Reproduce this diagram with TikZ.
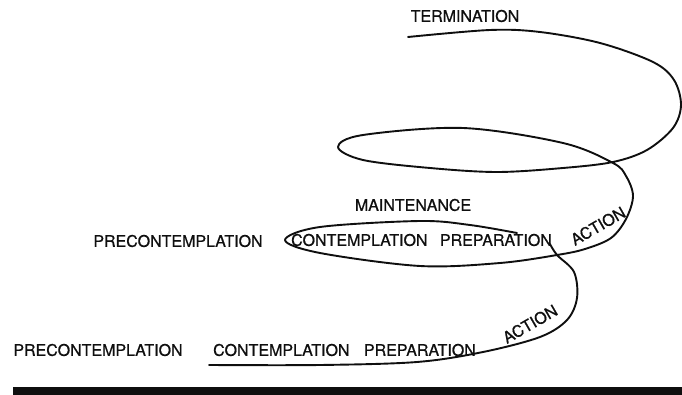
\documentclass[tikz,border=0pt]{standalone}
\usepackage{fontspec}
\setmainfont{TeX Gyre Heros}
\newfontfamily\stagefont[FakeBold=0.8]{TeX Gyre Heros}
\usetikzlibrary{positioning}
\definecolor{myink}{RGB}{15,15,15}
\tikzset{
  stage/.style={font=\stagefont\fontsize{16}{19}\selectfont, text=myink, inner sep=0pt},
  spiral/.style={line width=1.9pt, color=myink, line cap=round, line join=round},
  ground/.style={fill=myink, draw=none}
}

\begin{document}
\begin{tikzpicture}[x=1pt, y=-1pt]
  \useasboundingbox (0,0) rectangle (682,395);

  % --- lower turn ---
  \node[stage] (prelo) at (98,350) {PRECONTEMPLATION};
  \node[stage, anchor=west] (conlo) at (213,350) {CONTEMPLATION};
  \node[stage, right=14pt of conlo] (preplo) {PREPARATION};
  \node[stage, rotate=30] (actlo) at (530,324) {ACTION};

  % --- upper turn ---
  \node[stage] (preup) at (178,241) {PRECONTEMPLATION};
  \node[stage, anchor=west] (conup) at (291,240) {CONTEMPLATION};
  \node[stage, right=12pt of conup] (prepup) {PREPARATION};
  \node[stage, rotate=30] (actup) at (598,226) {ACTION};
  \node[stage] (maint) at (413,205) {MAINTENANCE};
  \node[stage] (term) at (465,16) {TERMINATION};

  % spiral, lower stroke
  \draw[spiral] plot[smooth, tension=0.55] coordinates {
    (209,365) (320,365) (417,362) (483,352) (540,337) (567,320)
    (577,298) (574,272) (557,255) (550,244)};

  % spiral, middle and upper strokes
  \draw[spiral] plot[smooth, tension=0.55] coordinates {
    (517,233) (470,225) (420,221) (320,227) (285,240) (320,253)
    (420,266) (500,263) (557,255) (585,249) (611,238) (626,219)
    (633,196) (626,176) (613,163) (563,143) (463,128) (363,135)
    (338,147) (363,160) (430,168) (497,172) (563,168) (613,162)
    (647,150) (673,128) (681,105) (674,80) (653,62) (600,43)
    (540,32) (490,30) (408,37)};

  % ground bar
  \fill[ground] (13,387) rectangle (682,395);
\end{tikzpicture}
\end{document}
